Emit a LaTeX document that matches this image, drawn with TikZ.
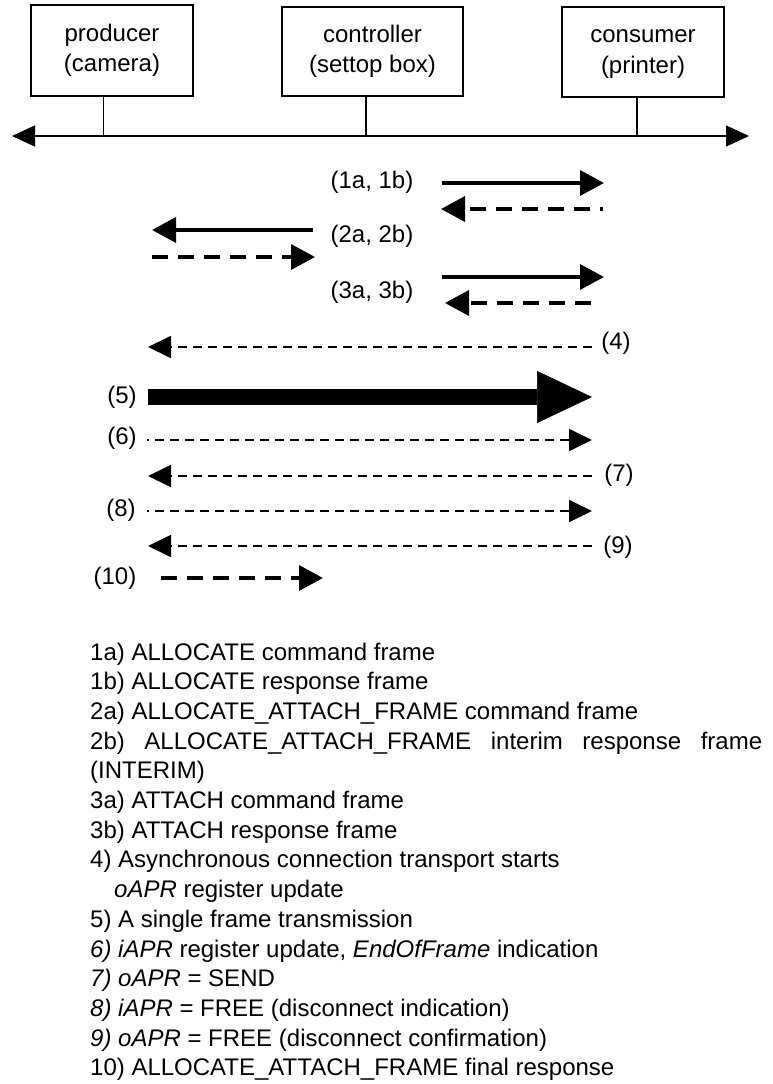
\documentclass[tikz,border=0pt]{standalone}
\usepackage{fontspec}
\setmainfont{Liberation Sans}
\usetikzlibrary{arrows.meta}
\newcommand{\twolines}[2]{\raisebox{-4pt}{\begin{tabular}{@{}c@{}}#1\\#2\end{tabular}}}
\begin{document}
\begin{tikzpicture}[x=1pt,y=-1pt,
  box/.style={draw,line width=1.3pt,inner sep=0pt,
    font=\fontsize{24}{30.5}\selectfont},
  thinline/.style={line width=1.3pt},
  bus/.style={line width=1.3pt,{Triangle[length=23pt,width=21pt]}-{Triangle[length=23pt,width=21pt]}},
  lbl/.style={inner sep=0pt,font=\fontsize{24}{28}\selectfont},
  solidarr/.style={line width=3.6pt,-{Triangle[length=24pt,width=25pt]}},
  dasharr/.style={line width=3.6pt,dash pattern=on 16pt off 10pt,-{Triangle[length=24pt,width=25pt]}},
  thinarr/.style={line width=1.8pt,dash pattern=on 9pt off 6pt,-{Triangle[length=23pt,width=22pt]}},
  bigarr/.style={line width=16pt,-{Triangle[length=55pt,width=52pt,line width=0.5pt]}},
  listtxt/.style={anchor=base west,inner sep=0pt,font=\fontsize{24}{29.7}\selectfont}
]
\useasboundingbox (0,0) rectangle (772,1084);

% boxes
\node[box,minimum width=162pt,minimum height=91pt] (prod) at (112,50.5) {\twolines{producer}{(camera)}};
\node[box,minimum width=181pt,minimum height=89pt] (ctrl) at (372.5,51.5) {\twolines{controller}{(settop box)}};
\node[box,minimum width=162pt,minimum height=90pt] (cons) at (643,52) {\twolines{consumer}{(printer)}};

% bus
\coordinate (busL) at (12,136);
\coordinate (busR) at (749,136);
\coordinate (bp) at (103.7,136);
\coordinate (bc) at (366,136);
\coordinate (bn) at (637,136);
\draw[bus] (busL) -- (busR);
\draw[thinline] (bp |- prod.south) -- (bp);
\draw[thinline] (bc |- ctrl.south) -- (bc);
\draw[thinline] (bn |- cons.south) -- (bn);

% arrow endpoints
\coordinate (a1s) at (442,183);   \coordinate (a1e) at (604,183);
\coordinate (b1s) at (603,209);   \coordinate (b1e) at (441,209);
\coordinate (a2s) at (313,230);   \coordinate (a2e) at (152,230);
\coordinate (b2s) at (152,257);   \coordinate (b2e) at (315,257);
\coordinate (a3s) at (442,277);   \coordinate (a3e) at (604,277);
\coordinate (b3s) at (591,303);   \coordinate (b3e) at (445,303);
\coordinate (a4s) at (592,347);   \coordinate (a4e) at (148,347);
\coordinate (a5s) at (148,397);   \coordinate (a5e) at (592,397);
\coordinate (a6s) at (147,440);   \coordinate (a6e) at (592,440);
\coordinate (a7s) at (592,476);   \coordinate (a7e) at (148,476);
\coordinate (a8s) at (147,511);   \coordinate (a8e) at (592,511);
\coordinate (a9s) at (592,546);   \coordinate (a9e) at (148,546);
\coordinate (a10s) at (161,578);  \coordinate (a10e) at (323,578);

\draw[solidarr] (a1s) -- (a1e);
\draw[dasharr,dash phase=13pt] (b1s) -- (b1e);
\draw[solidarr] (a2s) -- (a2e);
\draw[dasharr] (b2s) -- (b2e);
\draw[solidarr] (a3s) -- (a3e);
\draw[dasharr] (b3s) -- (b3e);
\draw[thinarr] (a4s) -- (a4e);
\draw[bigarr] (a5s) -- (a5e);
\draw[thinarr,dash phase=7pt] (a6s) -- (a6e);
\draw[thinarr] (a7s) -- (a7e);
\draw[thinarr,dash phase=7pt] (a8s) -- (a8e);
\draw[thinarr] (a9s) -- (a9e);
\draw[dasharr] (a10s) -- (a10e);

% arrow labels
\node[lbl] (l1) at (372,182) {(1a, 1b)};
\node[lbl] (l2) at (372,236) {(2a, 2b)};
\node[lbl] (l3) at (372,292) {(3a, 3b)};
\node[lbl] (l4) at (616,343) {(4)};
\node[lbl] (l5) at (122,397) {(5)};
\node[lbl] (l6) at (122,438) {(6)};
\node[lbl] (l7) at (619,475) {(7)};
\node[lbl] (l8) at (121,510) {(8)};
\node[lbl] (l9) at (618,547) {(9)};
\node[lbl] (l10) at (115,578) {(10)};

% legend
\node[listtxt] (t1) at (90,660) {1a) ALLOCATE command frame};
\node[listtxt] (t2) at (90,689.7) {1b) ALLOCATE response frame};
\node[listtxt] (t3) at (90,719.4) {2a) ALLOCATE\_ATTACH\_FRAME command frame};
\node[listtxt] (t4) at (90,749.1) {\makebox[672pt][s]{2b) ALLOCATE\_ATTACH\_FRAME interim response frame}};
\node[listtxt] (t5) at (90,778.8) {(INTERIM)};
\node[listtxt] (t6) at (90,808.5) {3a) ATTACH command frame};
\node[listtxt] (t7) at (90,838.2) {3b) ATTACH response frame};
\node[listtxt] (t8) at (90,867.9) {4) Asynchronous connection transport starts};
\node[listtxt] (t9) at (114,897.6) {\textit{oAPR} register update};
\node[listtxt] (t10) at (90,927.3) {5) A single frame transmission};
\node[listtxt] (t11) at (90,957) {\textit{6) iAPR} register update, \textit{EndOfFrame} indication};
\node[listtxt] (t12) at (90,986.7) {\textit{7) oAPR} = SEND};
\node[listtxt] (t13) at (90,1016.4) {\textit{8) iAPR} = FREE (disconnect indication)};
\node[listtxt] (t14) at (90,1046.1) {\textit{9) oAPR} = FREE (disconnect confirmation)};
\node[listtxt] (t15) at (90,1075.8) {10) ALLOCATE\_ATTACH\_FRAME final response};
\end{tikzpicture}
\end{document}
